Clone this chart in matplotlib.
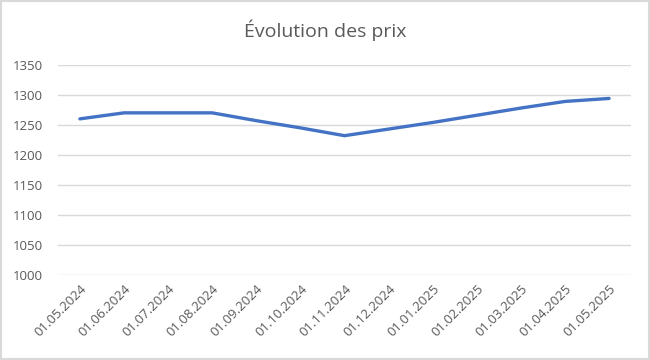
import matplotlib
matplotlib.use("Agg")
import matplotlib.pyplot as plt
from matplotlib.patches import Rectangle

dates = ["01.05.2024", "01.06.2024", "01.07.2024", "01.08.2024", "01.09.2024",
         "01.10.2024", "01.11.2024", "01.12.2024", "01.01.2025", "01.02.2025",
         "01.03.2025", "01.04.2025", "01.05.2025"]
prices = [1260, 1270, 1270, 1270, 1257, 1245, 1232, 1243, 1254, 1266, 1278, 1289, 1294]
yticks = [1000, 1050, 1100, 1150, 1200, 1250, 1300, 1350]
title = "Évolution des prix"

plt.rcParams['font.family'] = ['Open Sans', 'DejaVu Sans']
txt = '#595959'
grid = '#d9d9d9'

fig = plt.figure(figsize=(6.5, 3.6), dpi=100)
fig.patches.append(Rectangle((0.001, 0.002), 0.997, 0.995, transform=fig.transFigure,
                             fill=False, edgecolor=grid, linewidth=1.5))
ax = fig.add_axes([0.089, 0.236, 0.882, 0.584])
x = list(range(len(dates)))
ax.plot(x, prices, color='#4472C4', linewidth=2.4, solid_capstyle='round', solid_joinstyle='round')
ax.set_xlim(-0.5, len(dates) - 0.5)
ax.set_ylim(1000, 1350)
ax.set_yticks(yticks)
ax.set_yticklabels([str(v) for v in yticks])
ax.set_xticks(x)
ax.set_xticklabels(dates, rotation=45, ha='right', rotation_mode='anchor')
ax.yaxis.grid(True, color=grid, linewidth=1)
ax.set_axisbelow(True)
for s in ax.spines.values():
    s.set_visible(False)
ax.tick_params(axis='y', length=0, pad=11, labelsize=9.5, labelcolor=txt)
ax.tick_params(axis='x', length=0, pad=5, labelsize=9.5, labelcolor=txt)
fig.text(0.5, 0.915, title, ha='center', va='center', fontsize=14, color=txt)
fig.savefig('out.png', dpi=100)
